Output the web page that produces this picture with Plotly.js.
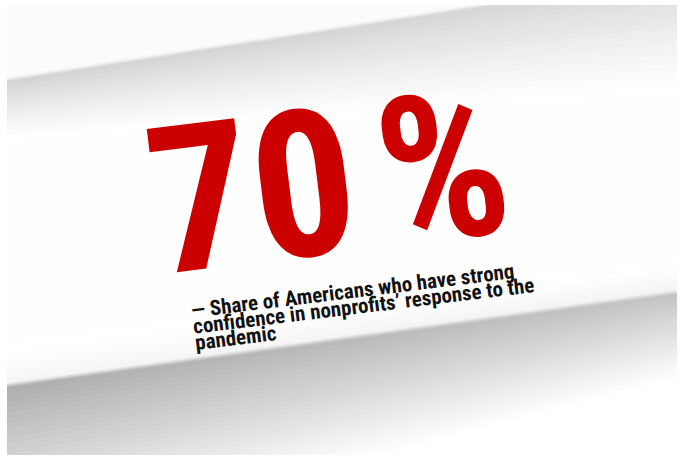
<!DOCTYPE html>
<html><head><meta charset="utf-8">
<script src="https://cdn.plot.ly/plotly-3.0.1.min.js"></script>
<style>html,body{margin:0;padding:0;background:#fff;overflow:hidden}</style>
</head><body><div id="chart" style="width:682px;height:458px"></div>
<script>
// ---- data ----
const shareValue = [70];
const shareUnit = ["%"];
const captionLines = [
  "— Share of Americans who have strong",
  "confidence in nonprofits’ response to the",
  "pandemic"
];

// ---- background helpers (decoration: slanted shaded bands) ----
const X0 = 7, X1 = 677, Y0 = 5, Y1 = 455;
const XL = -60, XR = 740;
function grey(d){ const v = Math.max(0, Math.min(255, Math.round(255 - d))); return 'rgb(' + v + ',' + v + ',' + v + ')'; }
function edgeY(e, x){ return e[1] + (e[3] - e[1]) * (x - e[0]) / (e[2] - e[0]); }
function lerpX(a, b, x){ return a + (b - a) * (x - X0) / (X1 - X0); }
function band(e, offL, offR, toY, dL, dR){
  const yl = edgeY(e, XL) + lerpX(offL, offR, XL);
  const yr = edgeY(e, XR) + lerpX(offL, offR, XR);
  const cl = grey(dL), cr = grey(dR);
  return {
    type: 'scatter', mode: 'lines', x: [XL, XR, XR, XL, XL], y: [yl, yr, toY, toY, yl],
    fill: 'toself', fillcolor: cl, line: {width: 0, color: 'rgba(0,0,0,0)'},
    fillgradient: {type: 'horizontal', start: X0, stop: X1, colorscale: [[0, cl], [1, cr]]},
    hoverinfo: 'skip', showlegend: false
  };
}
const traces = [];
// upper shadow band
const edgeU = [7, 82, 500, 5];
const NU = 24;
for (let i = NU; i >= 0; i--) {
  const t = i / NU;
  const k = Math.pow(1 - t, 1.2);
  traces.push(band(edgeU, t * 60, t * 115, -200, 44 * k, 40 * k));
}
[[-1, 0.7], [-2, 0.45], [-3, 0.22], [-4, 0.09]].forEach(function(s){
  traces.push(band(edgeU, s[0], s[0], -200, 4 + 40 * s[1], 4 + 36 * s[1]));
});
traces.push(band(edgeU, -5, -5, -200, 4, 4));
// lower band: light shading above the edge
const edgeL = [7, 387, 677, 294];
const NA = 10;
for (let j = NA; j >= 1; j--) {
  const s = j / NA;
  const k = Math.pow(1 - s, 1.5);
  traces.push(band(edgeL, -s * 45, -s * 35, 700, 12 * k, 16 * k));
}
[[-4, 0.15], [-3, 0.35], [-2, 0.6], [-1, 0.82]].forEach(function(s){
  traces.push(band(edgeL, s[0], s[0], 700, 12 + 66 * s[1], 16 + 42 * s[1]));
});
// lower band: dark shadow fading downward
const NL = 32;
for (let i = 0; i <= NL; i++) {
  const t = i / NL;
  const k = Math.pow(1 - t, 1.1);
  traces.push(band(edgeL, t * 165, t * 85, 700, 80 * k, 58 * k));
}

// ---- text ----
const TILT = 7;
const th = TILT * Math.PI / 180;
const annotations = [];
annotations.push({
  x: 328, y: 183, xref: 'x', yref: 'y', showarrow: false,
  xanchor: 'center', yanchor: 'middle', textangle: -TILT,
  text: '<b>' + shareValue[0] + '<span style="font-size:100px"> </span>' + shareUnit[0] + '</b>',
  font: {family: '"Roboto Condensed", Roboto, sans-serif', size: 205, weight: 700, color: '#cc0000'}
});
const capSize = 21, capLead = 16.4, boxH = 27, desc = 13;
const base0 = [189, 312];
captionLines.forEach(function(line, k){
  const bx = base0[0] + (desc + k * capLead) * Math.sin(th);
  const by = base0[1] + (desc + k * capLead) * Math.cos(th);
  annotations.push({
    x: bx - boxH * Math.sin(th), y: by, xref: 'x', yref: 'y', showarrow: false,
    xanchor: 'left', yanchor: 'bottom', textangle: -TILT, align: 'left',
    text: '<b>' + line + '</b>',
    font: {family: '"Roboto Condensed", "Liberation Sans Narrow", Roboto, sans-serif', size: capSize, weight: 700, color: '#111111'}
  });
});

const layout = {
  width: 682, height: 458,
  margin: {l: X0, r: 682 - X1, t: Y0, b: 458 - Y1, pad: 0},
  paper_bgcolor: '#ffffff', plot_bgcolor: '#fefefe',
  xaxis: {range: [X0, X1], visible: false, fixedrange: true},
  yaxis: {range: [Y1, Y0], visible: false, fixedrange: true},
  annotations: annotations,
  showlegend: false
};
Plotly.newPlot('chart', traces, layout, {staticPlot: true, displayModeBar: false});
</script>
</body></html>
